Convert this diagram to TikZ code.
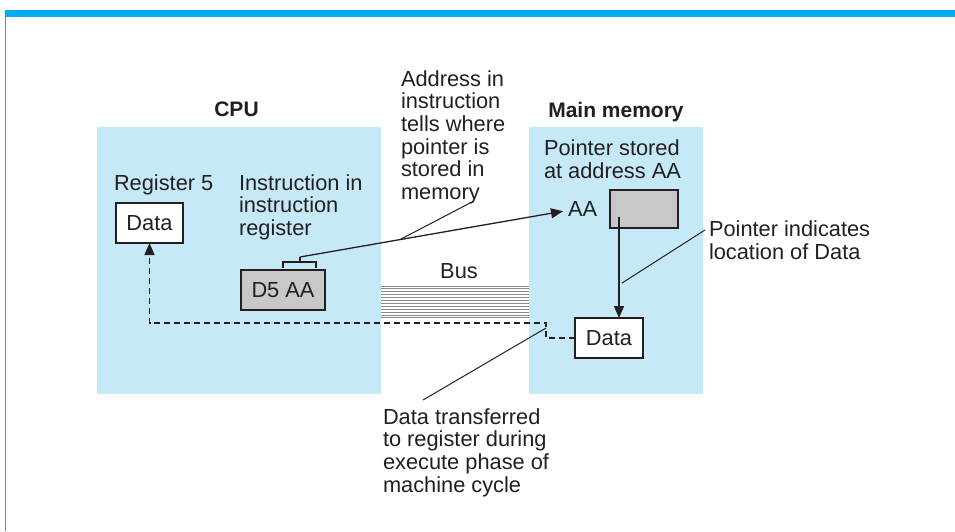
\documentclass[tikz,border=0pt]{standalone}
\usepackage{fontspec}
\setmainfont{Liberation Sans}
\usetikzlibrary{arrows.meta,calc}
\definecolor{panel}{RGB}{198,233,248}
\definecolor{barblue}{RGB}{0,174,239}
\definecolor{ink}{RGB}{35,31,32}
\definecolor{boxgray}{RGB}{200,200,200}
\definecolor{busgray}{RGB}{140,140,140}
\begin{document}
\begin{tikzpicture}[x=1pt,y=-1pt,
  every node/.style={inner sep=0pt, outer sep=0pt, text=ink, font=\fontsize{21.8}{22.7}\selectfont},
  panelbox/.style={fill=panel, draw=none, anchor=north west},
  lbl/.style={anchor=base west, align=left},
  ttl/.style={anchor=base, font=\fontsize{21}{22}\selectfont\bfseries},
  cell/.style={draw=ink, line width=1.8pt, anchor=north west},
  conn/.style={draw=ink, line width=1.3pt},
  arr/.style={conn, -{Triangle[length=12pt,width=10pt]}},
  dashline/.style={draw=ink, line width=1.3pt, dash pattern=on 6pt off 4pt},
  busline/.style={draw=busgray, line width=1pt}
]
\useasboundingbox (0,0) rectangle (955,531);
\fill[white] (0,0) rectangle (955,531);
\fill[barblue] (5,10) rectangle (955,17);
\draw[barblue, line width=1pt] (5,10) -- (5,531);

% panels
\node[panelbox, minimum width=284pt, minimum height=267pt] (cpu) at (97,127) {};
\node[panelbox, minimum width=174pt, minimum height=267pt] (mem) at (529,127) {};

% titles
\node[ttl] (cputitle) at (236.5,116) {CPU};
\node[ttl] (memtitle) at (616,117) {Main memory};

% CPU contents (multi-line labels are anchored at the baseline of their last line)
\node[lbl] (reglbl) at (114,190) {Register 5};
\node[cell, fill=white, minimum width=67pt, minimum height=40pt] (reg) at (116,203) {Data};
\node[lbl] (irlbl) at (239,235.4) {Instruction in\\instruction\\register};
\node[cell, fill=boxgray, minimum width=84pt, minimum height=40pt] (ir) at (241,270) {D5 AA};

% bracket on instruction
\draw[conn, line width=1.1pt] ($(ir.north west)+(42,-2)$) -- ++(0,-6) -- ++(33,0) -- ++(0,6);
\coordinate (irtop) at ($(ir.north west)+(59,-13)$);
\draw[conn, line width=1.1pt] ($(ir.north west)+(59,-8)$) -- (irtop);

% address label
\node[lbl] (addrlbl) at (401,199.5) {Address in\\instruction\\tells where\\pointer is\\stored in\\memory};

% memory contents
\node[lbl] (ptrlbl) at (544,178.4) {Pointer stored\\at address AA};
\node[lbl] (aa) at (568,216.7) {AA};
\node[cell, fill=boxgray, minimum width=68pt, minimum height=38pt] (ptr) at (610,190) {};
\node[cell, fill=white, minimum width=68pt, minimum height=40pt] (mdata) at (575,318) {Data};
\node[lbl] (pilbl) at (709,259.4) {Pointer indicates\\location of Data};

% bus
\node[anchor=base] (buslbl) at (459,278) {Bus};
\foreach \i in {0,...,11}{
  \draw[busline] ($(cpu.north east)+(0,159+\i*2.9)$) -- ($(mem.north west)+(0,159+\i*2.9)$);
}

% pointer from instruction to AA
\coordinate (aatip) at ($(aa.west)+(-5,2)$);
\draw[arr] (irtop) -- (aatip);
\coordinate (addrfoot) at (470,203);
\draw[conn, line width=1pt] (addrfoot) -- ($(irtop)!0.38!(aatip)$);

% pointer to data
\coordinate (ptrstart) at ($(ptr.north west)+(9,27)$);
\draw[arr] (ptrstart) -- (ptrstart |- mdata.north);
\coordinate (pifoot) at (705,230);
\draw[conn, line width=1pt] (pifoot) -- ($(ptrstart)+(3,66)$);

% data transfer
\coordinate (dj) at (546,323);
\draw[dashline, -{Triangle[length=12pt,width=10pt]}] (mdata.west) -| (dj) -- (dj -| reg.south) -- (reg.south);
\node[lbl] (dtlbl) at (383,492.1) {Data transferred\\to register during\\execute phase of\\machine cycle};
\coordinate (dtfoot) at (423,400);
\draw[conn, line width=1pt] ($(dj)+(0,5)$) -- (dtfoot);
\end{tikzpicture}
\end{document}
